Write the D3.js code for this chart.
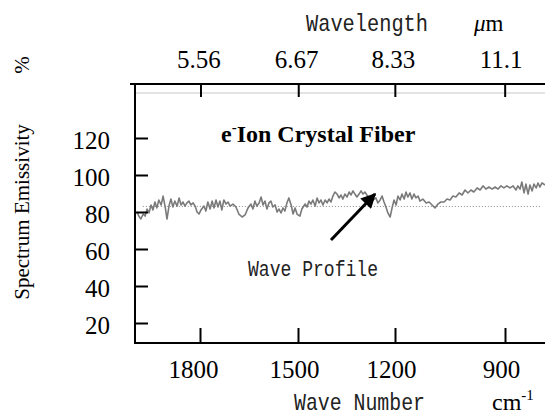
<!DOCTYPE html>
<html>
<head>
<meta charset="utf-8">
<script src="https://cdn.jsdelivr.net/npm/d3@7"></script>
<style>
  html, body { margin: 0; padding: 0; background: #fff; }
  svg { display: block; }
</style>
</head>
<body>
<div id="chart"></div>
<script>
// ---- data ----
const waveNumberTicks = [1800, 1500, 1200, 900];
const wavelengthTicks = [5.56, 6.67, 8.33, 11.1];
const wavelengthLabels = ["5.56", "6.67", "8.33", "11.1"];
const emissivityTicks = [20, 40, 60, 80, 100, 120];
const referenceLevel = 83;

const waveNumbers = [
  1993,1987,1981,1974,1968,1962,1956,1950,1944,1938,1932,1926,1919,1913,1907,1901,1895,1889,1883,1877,
  1870,1864,1858,1852,1846,1840,1834,1828,1821,1815,1809,1803,1797,1788,1782,1776,1769,1763,1757,1751,
  1745,1739,1733,1727,1720,1714,1708,1699,1690,1681,1671,1662,1653,1644,1638,1632,1626,1619,1613,1607,
  1601,1595,1589,1583,1577,1570,1564,1558,1552,1546,1540,1534,1528,1521,1515,1509,1503,1494,1488,1478,
  1472,1466,1460,1454,1447,1441,1435,1429,1423,1416,1410,1404,1398,1392,1386,1379,1373,1367,1361,1355,
  1348,1342,1336,1330,1324,1318,1311,1305,1299,1293,1287,1280,1274,1268,1259,1253,1246,1240,1234,1228,
  1222,1215,1209,1203,1197,1192,1186,1181,1175,1170,1165,1159,1154,1148,1143,1137,1132,1124,1115,1107,
  1099,1091,1083,1075,1066,1058,1050,1042,1034,1025,1017,1009,1001,993,985,976,968,960,952,944,
  935,927,919,911,903,895,886,878,870,865,859,854,848,843,837,832,826,821,815,810,
  805,799,791
];
const emissivity = [
  80.0,77.8,76.2,78.9,77.8,81.6,79.5,83.8,81.1,85.4,82.2,86.5,83.8,88.6,83.2,76.2,83.2,87.0,82.7,85.9,
  83.2,87.6,83.8,85.4,83.2,84.9,85.9,83.8,84.9,83.2,80.0,78.9,81.1,83.2,80.5,85.4,81.6,85.9,82.2,86.5,
  82.7,85.9,81.1,86.5,84.3,85.4,83.2,84.3,82.7,78.9,77.3,78.4,82.2,84.3,81.6,85.9,83.2,84.9,88.1,83.8,
  85.9,81.6,84.9,85.9,82.7,83.8,80.0,81.6,79.5,82.2,80.5,84.9,87.6,83.8,78.9,82.2,78.9,77.8,81.6,84.3,
  82.7,85.9,84.3,86.5,83.2,87.6,84.9,86.5,83.8,86.5,84.9,87.0,85.4,88.6,90.8,89.7,87.6,89.2,87.0,89.7,
  88.1,90.8,89.2,91.4,89.7,88.1,89.7,91.4,89.7,90.8,89.2,87.0,88.1,86.5,87.6,84.9,86.5,88.6,85.4,82.7,
  79.5,77.3,82.2,86.5,83.8,88.6,86.5,89.7,87.0,90.8,88.1,90.3,87.0,89.7,87.6,88.6,85.9,87.0,84.9,85.4,
  83.8,82.2,84.3,85.4,85.4,87.0,86.5,88.6,88.1,90.3,89.2,91.9,90.3,91.9,90.8,93.0,91.9,94.1,92.4,93.5,
  92.4,93.5,92.4,94.1,93.0,94.1,93.0,94.1,91.9,94.1,92.4,96.2,90.3,95.1,89.7,94.6,91.4,95.1,93.0,95.7,
  93.5,95.7,94.6
];

// ---- layout ----
const W = 545, H = 417;
const frame = { left: 135, right: 545, top: 84, bottom: 343 };

const svg = d3.select("#chart").append("svg")
  .attr("width", W).attr("height", H);

const x = d3.scaleLinear().domain(waveNumberTicks).range([200, 298, 395, 505]);
const y = d3.scaleLinear().domain([20, 120]).range([323, 138]);

const serif = "'Liberation Serif', 'Times New Roman', serif";
const mono = "'Liberation Mono', 'Courier New', monospace";

// faint inner line
svg.append("line")
  .attr("x1", frame.left).attr("x2", frame.right)
  .attr("y1", 93).attr("y2", 93)
  .attr("stroke", "#c8c8c8").attr("stroke-width", 1);

// reference dotted line
svg.append("line")
  .attr("x1", x(1975)).attr("x2", x(800))
  .attr("y1", y(referenceLevel)).attr("y2", y(referenceLevel))
  .attr("stroke", "#888").attr("stroke-width", 1)
  .attr("stroke-dasharray", "1,2");

// spectrum line
const pts = waveNumbers.map((w, i) => [w, emissivity[i]]);
svg.append("path")
  .datum(pts)
  .attr("fill", "none")
  .attr("stroke", "#7a7a7a")
  .attr("stroke-width", 1.6)
  .attr("stroke-linejoin", "round")
  .attr("d", d3.line().x(d => x(d[0])).y(d => y(d[1])));

// frame lines
svg.append("line").attr("x1", 130).attr("x2", frame.right)
  .attr("y1", frame.top).attr("y2", frame.top)
  .attr("stroke", "#000").attr("stroke-width", 2);
svg.append("line").attr("x1", frame.left).attr("x2", frame.left)
  .attr("y1", frame.top).attr("y2", frame.bottom + 1)
  .attr("stroke", "#000").attr("stroke-width", 2);
svg.append("line").attr("x1", frame.left).attr("x2", frame.right)
  .attr("y1", frame.bottom).attr("y2", frame.bottom)
  .attr("stroke", "#000").attr("stroke-width", 2);

// bottom axis
const gB = svg.append("g").attr("transform", `translate(0,${frame.bottom})`)
  .call(d3.axisBottom(x).tickValues(waveNumberTicks).tickFormat(d3.format("d"))
    .tickSizeInner(-15).tickSizeOuter(0).tickPadding(17));
gB.select(".domain").remove();
gB.selectAll(".tick line").attr("stroke", "#000").attr("stroke-width", 2);
gB.selectAll(".tick text").attr("font-family", serif).attr("font-size", 25).attr("fill", "#000")
  .attr("dx", (d, i) => i === 0 ? -7 : -4);

// top axis (wavelength)
const gT = svg.append("g").attr("transform", `translate(0,${frame.top})`)
  .call(d3.axisTop(x).tickValues(wavelengthTicks.map(l => 10000 / l))
    .tickFormat((d, i) => wavelengthLabels[i]).tickSizeInner(-13).tickSizeOuter(0).tickPadding(16));
gT.select(".domain").remove();
gT.selectAll(".tick line").attr("stroke", "#000").attr("stroke-width", 2);
gT.selectAll(".tick text").attr("font-family", serif).attr("font-size", 25).attr("fill", "#000")
  .attr("dx", (d, i) => i === 3 ? -4 : -2);

// left axis
const gL = svg.append("g").attr("transform", `translate(${frame.left},0)`)
  .call(d3.axisLeft(y).tickValues(emissivityTicks).tickSizeInner(-13).tickSizeOuter(0).tickPadding(25));
gL.select(".domain").remove();
gL.selectAll(".tick line").attr("stroke", "#000").attr("stroke-width", 2);
gL.selectAll(".tick text").attr("font-family", serif).attr("font-size", 25).attr("fill", "#000")
  .attr("dy", "0.4em");

// axis titles
svg.append("text").attr("x", 306).attr("y", 31)
  .attr("font-family", mono).attr("font-size", 24).attr("fill", "#222")
  .attr("textLength", 122).attr("lengthAdjust", "spacingAndGlyphs")
  .text("Wavelength");
const um = svg.append("text").attr("x", 474).attr("y", 31)
  .attr("font-family", serif).attr("font-size", 23);
um.append("tspan").attr("font-style", "italic").text("μ");
um.append("tspan").text("m");

svg.append("text").attr("x", 294).attr("y", 410)
  .attr("font-family", mono).attr("font-size", 24).attr("fill", "#222")
  .attr("textLength", 131).attr("lengthAdjust", "spacingAndGlyphs")
  .text("Wave Number");
const cm = svg.append("text").attr("x", 492).attr("y", 410)
  .attr("font-family", serif).attr("font-size", 24);
cm.append("tspan").text("cm");
cm.append("tspan").attr("font-size", 15).attr("dy", -10).text("-1");

svg.append("text")
  .attr("transform", "translate(29,212) rotate(-90)")
  .attr("text-anchor", "middle")
  .attr("font-family", serif).attr("font-size", 21)
  .text("Spectrum Emissivity");
svg.append("text")
  .attr("transform", "translate(29,65) rotate(-90)")
  .attr("text-anchor", "middle")
  .attr("font-family", serif).attr("font-size", 21)
  .text("%");

// chart label
const ttl = svg.append("text").attr("x", 221).attr("y", 142)
  .attr("font-family", serif).attr("font-size", 24).attr("font-weight", "bold");
ttl.append("tspan").text("e");
ttl.append("tspan").attr("font-size", 15).attr("dy", -10).text("-");
ttl.append("tspan").attr("dy", 10).text("Ion Crystal Fiber");

// annotation
svg.append("text").attr("x", 248).attr("y", 276)
  .attr("font-family", mono).attr("font-size", 22).attr("fill", "#222")
  .attr("textLength", 130).attr("lengthAdjust", "spacingAndGlyphs")
  .text("Wave Profile");

svg.append("defs").append("marker")
  .attr("id", "ah").attr("viewBox", "0 0 10 10")
  .attr("refX", 9).attr("refY", 5)
  .attr("markerWidth", 6).attr("markerHeight", 5)
  .attr("markerUnits", "strokeWidth")
  .attr("orient", "auto")
  .append("path").attr("d", "M0,0 L10,5 L0,10 Z").attr("fill", "#000");
svg.append("line")
  .attr("x1", 331).attr("y1", 240).attr("x2", 375).attr("y2", 194)
  .attr("stroke", "#000").attr("stroke-width", 3)
  .attr("marker-end", "url(#ah)");
</script>
</body>
</html>
